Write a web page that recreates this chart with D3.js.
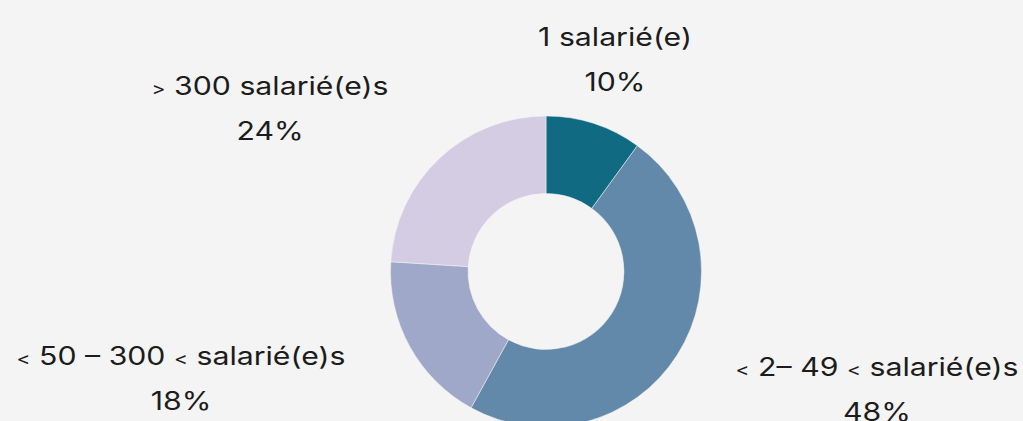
<!DOCTYPE html>
<html>
<head>
<meta charset="utf-8">
<script src="https://cdn.jsdelivr.net/npm/d3@7"></script>
<style>
  html, body { margin: 0; padding: 0; background: #f4f4f4; }
  svg { display: block; }
  text { font-family: "Inter", "Open Sans", sans-serif; fill: #1c1c1c; }
</style>
</head>
<body>
<script>
// categories and shares (in %), clockwise from 12 o'clock
let categories = ["1 salarié(e)", "< 2\u2013 49 < salarié(e)s", "< 50 \u2013 300 < salarié(e)s", "> 300 salarié(e)s"];
let values = [10, 48, 18, 24];
let colors = ["#106b82", "#6289aa", "#9fa8c8", "#d3cce3"];
// where each label block is centred (layout only)
let labelXY = [[615, 46], [877, 376], [181, 365], [270, 95]];

let width = 1023, height = 421;
let cx = 546, cy = 271.5, outerR = 155.5, innerR = 78;
let fontSize = 25, stretch = 1.21, lineGap = 45;

let svg = d3.select("body").append("svg")
  .attr("width", width).attr("height", height);

svg.append("rect").attr("width", width).attr("height", height).attr("fill", "#f4f4f4");

let pie = d3.pie().sort(null).value(function (d) { return d; });
let arc = d3.arc().innerRadius(innerR).outerRadius(outerR);

let data = pie(values);

let g = svg.append("g").attr("transform", "translate(" + cx + "," + cy + ")");

g.selectAll("path").data(data).enter().append("path")
  .attr("d", arc)
  .attr("fill", function (d, i) { return colors[i]; })
  .attr("stroke", "#f4f4f4")
  .attr("stroke-width", 0.5);

let labels = svg.append("g").selectAll("g").data(data).enter().append("g")
  .attr("transform", function (d, i) { return "translate(" + labelXY[i][0] + "," + labelXY[i][1] + ")"; });

// category name; the < and > signs are set smaller like in the original
let names = labels.append("text")
  .attr("text-anchor", "middle")
  .attr("transform", "scale(" + stretch + ",1)")
  .style("font-size", fontSize + "px");

names.each(function (d, i) {
  let t = d3.select(this);
  categories[i].split(/([<>])/).filter(function (s) { return s !== ""; }).forEach(function (s) {
    let sp = t.append("tspan").text(s);
    if (s === "<" || s === ">") sp.style("font-size", (fontSize * 0.7) + "px");
  });
});

labels.append("text")
  .attr("text-anchor", "middle")
  .attr("transform", "translate(0," + lineGap + ") scale(" + stretch + ",1)")
  .style("font-size", fontSize + "px")
  .text(function (d) { return d.data + "%"; });
</script>
</body>
</html>
